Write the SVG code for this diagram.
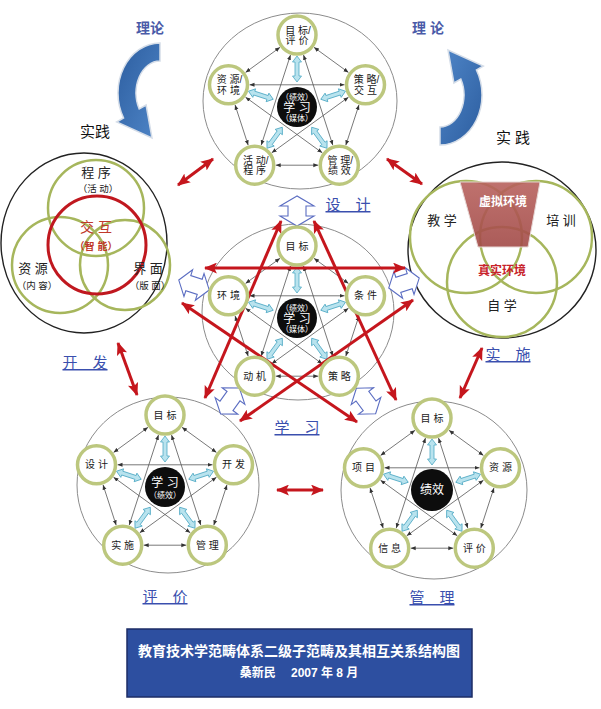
<svg xmlns="http://www.w3.org/2000/svg" width="601" height="709" viewBox="0 0 601 709">
<style>
text{font-family:"Liberation Sans","Noto Sans CJK SC",sans-serif;}
.frame{fill:none;stroke:#8c8c8c;stroke-width:1}
.bframe{fill:none;stroke:#222;stroke-width:1.4}
.venn{fill:none;stroke:#a6b65c;stroke-width:2.5}
.nd circle{fill:#fff;stroke:#bcc77e;stroke-width:3.5}
.nl{font-size:10px;fill:#1a1a1a;text-anchor:middle}
.core{fill:#0d0d0d}
.ct{fill:#fff;text-anchor:middle}
.k{stroke:#555;stroke-width:0.8;fill:none;marker-start:url(#ka);marker-end:url(#ka)}
.cy{fill:#b9e3ee;stroke:#4ea9c4;stroke-width:0.8}
.red{stroke:#c5161d;stroke-width:3;fill:none;marker-start:url(#ra);marker-end:url(#ra)}
.ha{fill:#fff;stroke:#5b6dc2;stroke-width:1.1}
.lab{font-size:15px;fill:#3a4fae;text-anchor:middle;text-decoration:underline}
.blk{font-size:13px;fill:#222;text-anchor:middle}
.sm{font-size:9.5px;fill:#222;text-anchor:middle}
.th{font-size:14px;fill:#4a5ba8;text-anchor:middle;font-weight:bold}
.pr{font-size:15px;fill:#111;text-anchor:middle}
</style>
<defs>
<marker id="ka" viewBox="0 0 10 10" refX="10" refY="5" markerWidth="5" markerHeight="5" markerUnits="userSpaceOnUse" orient="auto-start-reverse"><path d="M0,1L10,5L0,9z" fill="#333"/></marker>
<marker id="ra" viewBox="0 0 12 10" refX="11" refY="5" markerWidth="13" markerHeight="11" markerUnits="userSpaceOnUse" orient="auto-start-reverse"><path d="M0,0L12,5L0,10L2.5,5z" fill="#c5161d"/></marker>
<linearGradient id="bg" x1="0" y1="0" x2="1" y2="1"><stop offset="0" stop-color="#2c5d9f"/><stop offset="1" stop-color="#4f86c8"/></linearGradient>
<linearGradient id="tz" x1="0" y1="0" x2="0" y2="1"><stop offset="0" stop-color="#b8625e"/><stop offset="1" stop-color="#a24a47"/></linearGradient>
<path id="carrow" d="M160,43 A42,50 0 0,0 123.6,118 L116.7,122 L152,138 L146.1,105 L139.2,109 A24,32 0 0,1 160,61 Z" fill="url(#bg)" stroke="#d5dde8" stroke-width="1.5"/>
<polygon id="ha" class="ha" points="-16,0 -6,-14 -6,-8 6,-8 6,-14 16,0 6,14 6,8 -6,8 -6,14"/>
<polygon id="cya" class="cy" points="0,-51 4.5,-45 2,-45 2,-31 4.5,-31 0,-25 -4.5,-31 -2,-31 -2,-45 -4.5,-45"/>
<g id="k5">
<line class="k" x1="-17" y1="-59.65" x2="-51.5" y2="-34.55"/>
<line class="k" x1="17" y1="-59.65" x2="51.5" y2="-34.55"/>
<line class="k" x1="-62" y1="-2.24" x2="-48.8" y2="38.24"/>
<line class="k" x1="62" y1="-2.24" x2="48.8" y2="38.24"/>
<line class="k" x1="-21.3" y1="58.2" x2="21.3" y2="58.2"/>
<line class="k" x1="-6.49" y1="-52.03" x2="-35.81" y2="38.23"/>
<line class="k" x1="6.49" y1="-52.03" x2="35.81" y2="38.23"/>
<line class="k" x1="-47.5" y1="-22.2" x2="47.5" y2="-22.2"/>
<line class="k" x1="-51.5" y1="-9.87" x2="25.3" y2="45.87"/>
<line class="k" x1="51.5" y1="-9.87" x2="-25.3" y2="45.87"/>
<use href="#cya"/>
<use href="#cya" transform="rotate(-72)"/>
<use href="#cya" transform="rotate(72)"/>
<use href="#cya" transform="rotate(-144)"/>
<use href="#cya" transform="rotate(144)"/>
</g>
</defs>

<!-- theory/practice curved arrows -->
<g id="theory-left">
<use href="#carrow"/>
<text class="th" x="150" y="33">理论</text>
<text class="pr" x="95" y="137">实践</text>
</g>
<g id="theory-right">
<use href="#carrow" transform="translate(600,188) scale(-1,-1)"/>
<text class="th" x="428" y="33">理 论</text>
<text class="pr" x="513" y="143">实 践</text>
</g>

<!-- frames -->
<g id="frame-top"><ellipse class="frame" cx="300" cy="101" rx="97" ry="88"/></g>
<g id="frame-center"><ellipse class="frame" cx="298" cy="312" rx="96" ry="88"/></g>
<g id="frame-bl"><ellipse class="frame" cx="168" cy="485" rx="91" ry="88"/></g>
<g id="frame-br"><ellipse class="frame" cx="434" cy="490" rx="93" ry="89"/></g>

<!-- left practice circle -->
<g id="practice-left">
<ellipse class="bframe" cx="84" cy="243" rx="83" ry="90"/>
<circle class="venn" cx="96" cy="208" r="48"/>
<circle class="venn" cx="60" cy="265" r="48"/>
<circle class="venn" cx="125" cy="265" r="45"/>
<circle cx="97" cy="245" r="49" fill="none" stroke="#c0181f" stroke-width="3"/>
<text class="blk" x="96" y="177">程 序</text>
<text class="sm" x="98" y="192">（活 动）</text>
<text x="96" y="232" font-size="14" fill="#c0392b" text-anchor="middle">交 互</text>
<text x="96" y="250" font-size="10" fill="#c0392b" text-anchor="middle" font-weight="bold">（智 能）</text>
<text class="blk" x="33" y="273">资 源</text>
<text class="sm" x="37" y="289">（内 容）</text>
<text class="blk" x="148" y="273">界 面</text>
<text class="sm" x="150" y="289">（版 面）</text>
</g>

<!-- right practice circle -->
<g id="practice-right">
<ellipse class="bframe" cx="502" cy="250" rx="94" ry="88"/>
<circle class="venn" cx="466" cy="237" r="56"/>
<circle class="venn" cx="536" cy="237" r="56"/>
<circle class="venn" cx="502" cy="282" r="55"/>
<polygon points="460,182 540,182 528,247 478,247" fill="url(#tz)" fill-opacity="0.9" stroke="#e6d6d4" stroke-width="1"/>
<text x="503" y="206" font-size="12" font-weight="bold" fill="#fff" text-anchor="middle">虚拟环境</text>
<text x="502" y="275" font-size="12" font-weight="bold" fill="#c8232b" text-anchor="middle">真实环境</text>
<text class="blk" x="442" y="225">教 学</text>
<text class="blk" x="561" y="225">培 训</text>
<text class="blk" x="502" y="310">自 学</text>
</g>

<!-- connectors -->
<g id="connectors">
<use href="#k5" transform="translate(297,107)"/>
<use href="#k5" transform="translate(297,318)"/>
<use href="#k5" transform="translate(165,487)"/>
<use href="#k5" transform="translate(432,490)"/>
<polygon class="ha" points="297,196 280,206 288,206 288,216 280,216 297,226 314,216 306,216 306,206 314,206"/>
<use href="#ha" transform="translate(194,285) rotate(18)"/>
<use href="#ha" transform="translate(404,283) rotate(-18)"/>
<use href="#ha" transform="translate(230,401) rotate(126)"/>
<use href="#ha" transform="translate(366,401) rotate(53)"/>
<line class="red" x1="178" y1="185" x2="213" y2="159"/>
<line class="red" x1="387" y1="159" x2="422" y2="184"/>
<line class="red" x1="118" y1="343" x2="137" y2="395"/>
<line class="red" x1="482" y1="348" x2="460" y2="398"/>
<line class="red" x1="277" y1="490" x2="323" y2="490"/>
<line class="red" x1="205" y1="268" x2="405" y2="268"/>
<line class="red" x1="281" y1="221" x2="205" y2="398"/>
<line class="red" x1="314" y1="221" x2="396" y2="400"/>
<line class="red" x1="182" y1="303" x2="357" y2="422"/>
<line class="red" x1="413" y1="300" x2="240" y2="421"/>
</g>

<!-- top group nodes -->
<g id="t-goal" class="nd"><circle cx="297" cy="35" r="19"/><text class="nl" x="298" y="33.5">目 标/</text><text class="nl" x="297" y="44">评 价</text></g>
<g id="t-res" class="nd"><circle cx="228.5" cy="84.8" r="19"/><text class="nl" x="229.5" y="83.3">资 源/</text><text class="nl" x="228.5" y="93.8">环 境</text></g>
<g id="t-str" class="nd"><circle cx="365.5" cy="84.8" r="19"/><text class="nl" x="366.5" y="83.3">策 略/</text><text class="nl" x="365.5" y="93.8">交 互</text></g>
<g id="t-act" class="nd"><circle cx="254.7" cy="165.2" r="19"/><text class="nl" x="255.7" y="163.7">活 动/</text><text class="nl" x="254.7" y="174.2">程 序</text></g>
<g id="t-man" class="nd"><circle cx="339.3" cy="165.2" r="19"/><text class="nl" x="340.3" y="163.7">管 理/</text><text class="nl" x="339.3" y="174.2">绩 效</text></g>
<g id="t-core"><circle class="core" cx="297" cy="107" r="20"/><text class="ct" x="297" y="100" font-size="8">（绩效）</text><text class="ct" x="297" y="111.5" font-size="12">学 习</text><text class="ct" x="297" y="121" font-size="8">（媒体）</text></g>

<!-- center group nodes -->
<g id="c-goal" class="nd"><circle cx="297" cy="246" r="19"/><text class="nl" x="297" y="249.5">目 标</text></g>
<g id="c-env" class="nd"><circle cx="228.5" cy="295.8" r="19"/><text class="nl" x="228.5" y="299.3">环 境</text></g>
<g id="c-cond" class="nd"><circle cx="365.5" cy="295.8" r="19"/><text class="nl" x="365.5" y="299.3">条 件</text></g>
<g id="c-mot" class="nd"><circle cx="254.7" cy="376.2" r="19"/><text class="nl" x="254.7" y="379.7">动 机</text></g>
<g id="c-str" class="nd"><circle cx="339.3" cy="376.2" r="19"/><text class="nl" x="339.3" y="379.7">策 略</text></g>
<g id="c-core"><circle class="core" cx="297" cy="318" r="20"/><text class="ct" x="297" y="311" font-size="8">（绩效）</text><text class="ct" x="297" y="322.5" font-size="12">学 习</text><text class="ct" x="297" y="332" font-size="8">（媒体）</text></g>

<!-- bottom-left group nodes -->
<g id="bl-goal" class="nd"><circle cx="165" cy="415" r="19"/><text class="nl" x="165" y="418.5">目 标</text></g>
<g id="bl-des" class="nd"><circle cx="96.5" cy="464.8" r="19"/><text class="nl" x="96.5" y="468.3">设 计</text></g>
<g id="bl-dev" class="nd"><circle cx="233.5" cy="464.8" r="19"/><text class="nl" x="233.5" y="468.3">开 发</text></g>
<g id="bl-imp" class="nd"><circle cx="122.7" cy="545.2" r="19"/><text class="nl" x="122.7" y="548.7">实 施</text></g>
<g id="bl-man" class="nd"><circle cx="207.3" cy="545.2" r="19"/><text class="nl" x="207.3" y="548.7">管 理</text></g>
<g id="bl-core"><circle class="core" cx="165" cy="487" r="20"/><text class="ct" x="165" y="487" font-size="12">学 习</text><text class="ct" x="165" y="498" font-size="8">（绩效）</text></g>

<!-- bottom-right group nodes -->
<g id="br-goal" class="nd"><circle cx="432" cy="418" r="19"/><text class="nl" x="432" y="421.5">目 标</text></g>
<g id="br-proj" class="nd"><circle cx="363.5" cy="467.8" r="19"/><text class="nl" x="363.5" y="471.3">项 目</text></g>
<g id="br-res" class="nd"><circle cx="500.5" cy="467.8" r="19"/><text class="nl" x="500.5" y="471.3">资 源</text></g>
<g id="br-info" class="nd"><circle cx="389.7" cy="548.2" r="19"/><text class="nl" x="389.7" y="551.7">信 息</text></g>
<g id="br-eval" class="nd"><circle cx="474.3" cy="548.2" r="19"/><text class="nl" x="474.3" y="551.7">评 价</text></g>
<g id="br-core"><circle class="core" cx="432" cy="490" r="21"/><text class="ct" x="432" y="494" font-size="12">绩效</text></g>

<!-- labels -->
<g id="labels">
<text class="lab" x="348" y="210">设　计</text>
<text class="lab" x="85" y="368">开　发</text>
<text class="lab" x="508" y="360">实　施</text>
<text class="lab" x="297" y="433">学　习</text>
<text class="lab" x="165" y="602">评　价</text>
<text class="lab" x="432" y="603">管　理</text>
</g>

<!-- title -->
<g id="title">
<rect x="127" y="629" width="345" height="68" fill="#2d4fa0" stroke="#1c2d66" stroke-width="1.5"/>
<text x="299" y="656" font-size="14" font-weight="bold" fill="#fff" text-anchor="middle">教育技术学范畴体系二级子范畴及其相互关系结构图</text>
<text x="299" y="677" font-size="12" font-weight="bold" fill="#fff" text-anchor="middle">桑新民　 2007 年 8 月</text>
</g>
</svg>
